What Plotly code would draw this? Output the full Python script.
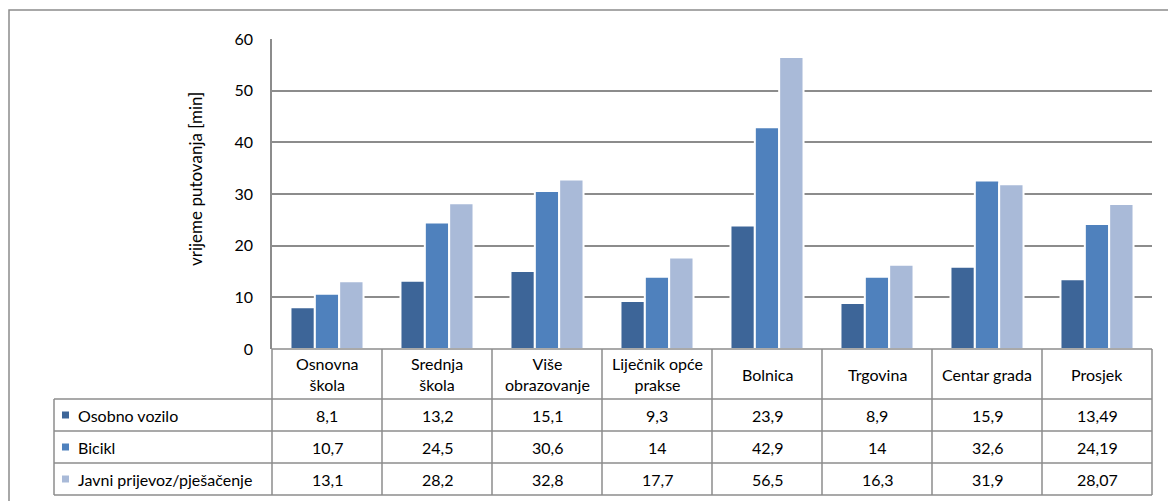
import plotly.graph_objects as go

# ---------------- data ----------------
categories = ["Osnovna škola", "Srednja škola", "Više obrazovanje", "Liječnik opće prakse",
              "Bolnica", "Trgovina", "Centar grada", "Prosjek"]
header_labels = ["Osnovna<br>škola", "Srednja<br>škola", "Više<br>obrazovanje",
                 "Liječnik opće<br>prakse", "Bolnica", "Trgovina", "Centar grada", "Prosjek"]
series_names = ["Osobno vozilo", "Bicikl", "Javni prijevoz/pješačenje"]
osobno_vozilo = [8.1, 13.2, 15.1, 9.3, 23.9, 8.9, 15.9, 13.49]
bicikl = [10.7, 24.5, 30.6, 14, 42.9, 14, 32.6, 24.19]
javni_prijevoz = [13.1, 28.2, 32.8, 17.7, 56.5, 16.3, 31.9, 28.07]
y_ticks = [0, 10, 20, 30, 40, 50, 60]
y_title = "vrijeme putovanja [min]"

# ---------------- style / layout ----------------
W, H = 1168, 501
colors = ["#3D6598", "#4F81BD", "#A9BAD8"]
grid_col = "#8C8C8C"
FONT = "Lato"
TXT = 16
PL, PR, PT, PB = 272, 1152, 39, 349          # plot area in pixels
ROW_EDGES = [349, 399, 431, 463, 495]        # table row edges
LEG_L = 54                                    # left edge of legend column


def px(x):
    return x / W


def py(y):
    return 1 - y / H


series = [osobno_vozilo, bicikl, javni_prijevoz]

fig = go.Figure()
for name, vals, col in zip(series_names, series, colors):
    fig.add_trace(go.Bar(
        x=categories, y=vals, name=name,
        marker=dict(color=col, line=dict(color="white", width=2)),
        showlegend=False,
    ))

shapes = []
annotations = []

# outer chart border
shapes.append(dict(type="rect", xref="paper", yref="paper",
                   x0=px(9), x1=1.02, y0=-0.02, y1=py(10),
                   line=dict(color=grid_col, width=1.5)))

# table horizontal lines
for i, yy in enumerate(ROW_EDGES):
    x0 = PL if i == 0 else LEG_L
    shapes.append(dict(type="line", xref="paper", yref="paper",
                       x0=px(x0), x1=px(PR), y0=py(yy), y1=py(yy),
                       line=dict(color=grid_col, width=1.5)))
# table vertical lines
n = len(categories)
colw = (PR - PL) / n
for j in range(n + 1):
    xx = PL + j * colw
    shapes.append(dict(type="line", xref="paper", yref="paper",
                       x0=px(xx), x1=px(xx), y0=py(ROW_EDGES[0]), y1=py(ROW_EDGES[-1]),
                       line=dict(color=grid_col, width=1.5)))
shapes.append(dict(type="line", xref="paper", yref="paper",
                   x0=px(LEG_L), x1=px(LEG_L), y0=py(ROW_EDGES[1]), y1=py(ROW_EDGES[-1]),
                   line=dict(color=grid_col, width=1.5)))

# header row (category labels)
hy = (ROW_EDGES[0] + ROW_EDGES[1]) / 2
for i, lab in enumerate(header_labels):
    annotations.append(dict(xref="x", yref="paper", x=i, y=py(hy),
                            text=lab, showarrow=False, xanchor="center", yanchor="middle",
                            font=dict(family=FONT, size=TXT, color="#000")))


def fmt(v):
    return str(v).replace(".", ",")


# data rows
for r, (name, vals, col) in enumerate(zip(series_names, series, colors)):
    yc = (ROW_EDGES[r + 1] + ROW_EDGES[r + 2]) / 2
    shapes.append(dict(type="rect", xref="paper", yref="paper",
                       x0=px(62), x1=px(69), y0=py(yc - 3.5), y1=py(yc + 3.5),
                       fillcolor=col, line=dict(width=0)))
    annotations.append(dict(xref="paper", yref="paper", x=px(76), y=py(yc),
                            text=name, showarrow=False, xanchor="left", yanchor="middle",
                            font=dict(family=FONT, size=TXT, color="#000")))
    for i, v in enumerate(vals):
        annotations.append(dict(xref="x", yref="paper", x=i, y=py(yc),
                                text=fmt(v), showarrow=False, xanchor="center", yanchor="middle",
                                font=dict(family=FONT, size=TXT, color="#000")))

# y-axis title
annotations.append(dict(xref="paper", yref="paper", x=px(195), y=py(179),
                        text=y_title, textangle=-90, showarrow=False,
                        xanchor="center", yanchor="middle",
                        font=dict(family=FONT, size=17, color="#000")))

fig.update_layout(
    width=W, height=H,
    margin=dict(l=0, r=0, t=0, b=0, pad=0, autoexpand=False),
    paper_bgcolor="white", plot_bgcolor="white",
    barmode="group", bargap=0.336, bargroupgap=0.0,
    shapes=shapes, annotations=annotations,
    xaxis=dict(domain=[px(PL), px(PR)], type="category", range=[-0.5, n - 0.5],
               showticklabels=False, showgrid=False, zeroline=False, showline=False,
               automargin=False, fixedrange=True),
    yaxis=dict(domain=[py(PB), py(PT)], range=[0, 60], tickvals=y_ticks,
               showgrid=True, gridcolor=grid_col, gridwidth=1.5,
               zeroline=False, showline=True, linecolor=grid_col, linewidth=1.5,
               ticks="outside", ticklen=14, tickcolor="rgba(0,0,0,0)",
               tickfont=dict(family=FONT, size=16, color="#000"),
               automargin=False, fixedrange=True),
    font=dict(family=FONT),
)

fig.write_html(
    "out.html",
    config={"displayModeBar": False},
    post_script=("document.documentElement.style.margin='0';"
                 "document.body.style.margin='0';document.body.style.padding='0';"
                 "document.body.style.overflow='hidden';"),
)
